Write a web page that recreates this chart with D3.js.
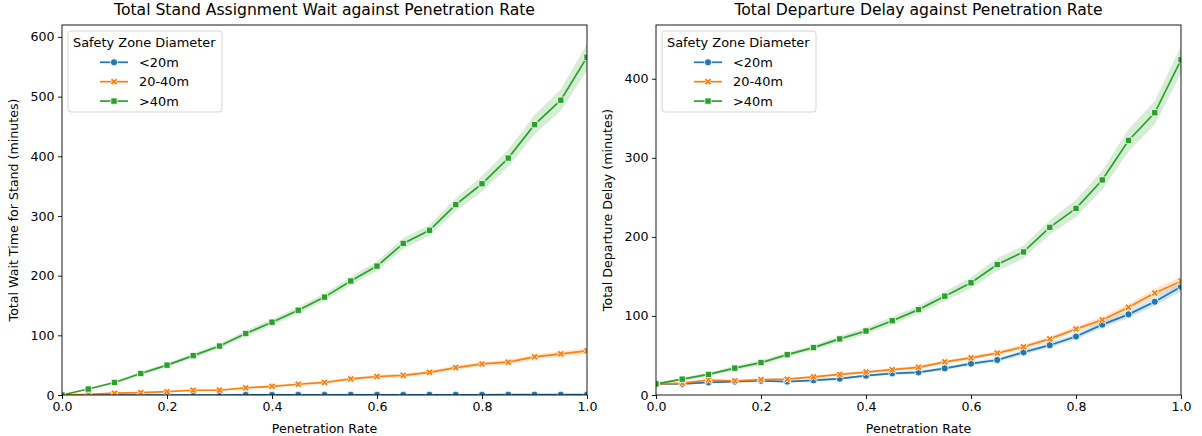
<!DOCTYPE html>
<html>
<head>
<meta charset="utf-8">
<script src="https://cdn.jsdelivr.net/npm/d3@7"></script>
<style>
    body { margin: 0; background: #fff; }
    svg text { font-family: "DejaVu Sans", sans-serif; fill: #000; }
</style>
</head>
<body>
<div class="output"></div>
<script>
// Доли проникновения (ось X)
const rates = [0, 0.05, 0.1, 0.15, 0.2, 0.25, 0.3, 0.35, 0.4, 0.45, 0.5,
               0.55, 0.6, 0.65, 0.7, 0.75, 0.8, 0.85, 0.9, 0.95, 1.0];
const zoneNames = ["<20m", "20-40m", ">40m"];

// Ожидание стоянки
const waitSmall = [0, 0, 0, 0, 0, 0, 0, 0.2, 0.2, 0.2, 0.2, 0.3, 0.3, 0.3, 0.4, 0.4, 0.4, 0.5, 0.5, 0.5, 0.6];
const waitMid   = [0, 1, 3, 4, 5.5, 8, 8, 12, 14.5, 18, 21, 27, 31, 33, 38, 46, 52, 55, 64, 69, 74];
const waitLarge = [0, 10, 21, 36, 50, 66, 82, 103, 122, 142, 164, 191, 216, 254, 276, 319, 354, 397, 453, 494, 566];
const waitSmallCi = [0, 0, 0, 0, 0, 0, 0, 0.2, 0.2, 0.2, 0.2, 0.3, 0.3, 0.3, 0.3, 0.3, 0.3, 0.4, 0.4, 0.4, 0.4];
const waitMidCi   = [0, 0.5, 1, 1, 1, 1.5, 1.5, 2, 2, 2, 2.5, 2.5, 3, 3, 3, 3.5, 3.5, 4, 4, 4.5, 5];
const waitLargeCi = [0, 1, 2, 3, 3, 4, 4, 5, 5, 6, 6, 7, 8, 9, 9, 11, 13, 14, 16, 18, 22];

// Задержка вылета
const delaySmall = [14, 14, 16, 17, 18, 17, 18.6, 20.6, 24.4, 27.4, 28.7, 33.7, 39.7, 44.3, 54, 63, 74, 89, 102, 118, 137];
const delayMid   = [14, 15, 19, 18, 19.4, 20, 23, 26, 29, 32, 35, 42, 47, 53, 61, 71, 83.5, 95, 111, 129, 144];
const delayLarge = [14, 20, 26, 34, 41, 51, 60, 71, 81, 94, 108, 125, 142, 165, 181, 212, 236, 272, 322, 357, 424];
const delaySmallCi = [0, 1, 1, 1, 1, 1, 1.5, 1.5, 1.5, 2, 2, 2, 2.5, 2.5, 3, 3, 3.5, 4, 4.5, 5, 6];
const delayMidCi   = [0, 1, 1, 1, 1, 1, 1.5, 1.5, 1.5, 2, 2, 2, 2.5, 2.5, 3, 3, 3.5, 4, 4.5, 5, 6];
const delayLargeCi = [0, 2, 2, 3, 3, 3, 3, 4, 4, 5, 5, 6, 7, 8, 8, 9, 11, 12, 14, 15, 17];

const colors = ["#1f77b4", "#ff7f0e", "#2ca02c"];
const fontSize = "12.6px";

const svg = d3.select(".output").append("svg")
    .attr("width", 1202)
    .attr("height", 436);

function markerPath(i, size) {
    if (i === 0) return d3.symbol(d3.symbolCircle, size)();
    if (i === 1) return d3.symbol(d3.symbolCross, size * 0.8)();
    return d3.symbol(d3.symbolSquare, size)();
}
function markerRotate(i) {
    return i === 1 ? " rotate(45)" : "";
}

function drawPanel(opts) {
    let { left, top, width, height, yMax, yTicks, title, yLabel, series } = opts;
    let g = svg.append("g").attr("transform", "translate(" + left + "," + top + ")");

    let x = d3.scaleLinear().domain([0, 1]).range([0, width]);
    let y = d3.scaleLinear().domain([0, yMax]).range([height, 0]);

    let clipId = "clip" + left;
    g.append("clipPath").attr("id", clipId)
        .append("rect").attr("width", width).attr("height", height);
    let plot = g.append("g").attr("clip-path", "url(#" + clipId + ")");

    // Доверительные интервалы
    let area = d3.area()
        .x((d) => x(d.rate))
        .y0((d) => y(d.value - d.ci))
        .y1((d) => y(d.value + d.ci));
    let line = d3.line()
        .x((d) => x(d.rate))
        .y((d) => y(d.value));

    let prepared = series.map((s, i) => ({
        i: i,
        values: rates.map((r, k) => ({ rate: r, value: s.values[k], ci: s.ci[k] }))
    }));

    prepared.forEach((s) => {
        plot.append("path")
            .attr("d", area(s.values))
            .attr("fill", colors[s.i])
            .attr("fill-opacity", 0.2)
            .attr("stroke", "none");
    });
    prepared.forEach((s) => {
        plot.append("path")
            .attr("d", line(s.values))
            .attr("fill", "none")
            .attr("stroke", colors[s.i])
            .attr("stroke-width", 1.7);
    });
    prepared.forEach((s) => {
        plot.selectAll(null)
            .data(s.values)
            .enter()
            .append("path")
            .attr("d", markerPath(s.i, 40))
            .attr("transform", (d) => "translate(" + x(d.rate) + "," + y(d.value) + ")" + markerRotate(s.i))
            .attr("fill", colors[s.i])
            .attr("stroke", "#fff")
            .attr("stroke-width", 0.8);
    });

    // Оси
    let xAxis = g.append("g")
        .attr("transform", "translate(0," + height + ")")
        .call(d3.axisBottom(x).tickValues([0, 0.2, 0.4, 0.6, 0.8, 1.0]).tickFormat(d3.format(".1f")).tickSizeOuter(0).tickSize(4).tickPadding(3.5));
    let yAxis = g.append("g")
        .call(d3.axisLeft(y).tickValues(yTicks).tickSizeOuter(0).tickSize(4).tickPadding(3.5));
    [xAxis, yAxis].forEach((a) => {
        a.select(".domain").remove();
        a.selectAll("line").attr("stroke", "#000").attr("stroke-width", 0.9);
        a.selectAll("text").style("font-size", fontSize).attr("fill", "#000");
    });

    g.append("rect")
        .attr("width", width)
        .attr("height", height)
        .attr("fill", "none")
        .attr("stroke", "#000")
        .attr("stroke-width", 0.9);

    g.append("text")
        .text(title)
        .attr("x", width / 2)
        .attr("y", -10)
        .attr("text-anchor", "middle")
        .style("font-size", "15.6px");

    g.append("text")
        .text("Penetration Rate")
        .attr("x", width / 2)
        .attr("y", height + 38)
        .attr("text-anchor", "middle")
        .style("font-size", fontSize);

    g.append("text")
        .text(yLabel)
        .attr("transform", "translate(" + opts.yLabelX + "," + (height / 2) + ") rotate(-90)")
        .attr("text-anchor", "middle")
        .style("font-size", fontSize);

    // Легенда
    let legend = g.append("g").attr("transform", "translate(6,6)");
    legend.append("rect")
        .attr("width", 154)
        .attr("height", 81)
        .attr("rx", 3)
        .attr("fill", "#fff")
        .attr("fill-opacity", 0.8)
        .attr("stroke", "#d0d0d0")
        .attr("stroke-width", 0.9);
    legend.append("text")
        .text("Safety Zone Diameter")
        .attr("x", 5)
        .attr("y", 15.5)
        .style("font-size", "12.9px");
    zoneNames.forEach((name, i) => {
        let row = legend.append("g").attr("transform", "translate(0," + (31.3 + i * 19.4) + ")");
        row.append("line")
            .attr("x1", 32).attr("x2", 60)
            .attr("stroke", colors[i])
            .attr("stroke-width", 1.7);
        row.append("path")
            .attr("d", markerPath(i, 40))
            .attr("transform", "translate(46,0)" + markerRotate(i))
            .attr("fill", colors[i])
            .attr("stroke", "#fff")
            .attr("stroke-width", 0.8);
        row.append("text")
            .text(name)
            .attr("x", 71)
            .attr("y", 4.5)
            .style("font-size", "12.9px");
    });
}

drawPanel({
    left: 62, top: 25, width: 525, height: 370,
    yMax: 620, yTicks: [0, 100, 200, 300, 400, 500, 600],
    title: "Total Stand Assignment Wait against Penetration Rate",
    yLabel: "Total Wait Time for Stand (minutes)",
    yLabelX: -44,
    series: [
        { values: waitSmall, ci: waitSmallCi },
        { values: waitMid, ci: waitMidCi },
        { values: waitLarge, ci: waitLargeCi }
    ]
});

drawPanel({
    left: 656, top: 25, width: 525, height: 370,
    yMax: 468, yTicks: [0, 100, 200, 300, 400],
    title: "Total Departure Delay against Penetration Rate",
    yLabel: "Total Departure Delay (minutes)",
    yLabelX: -44,
    series: [
        { values: delaySmall, ci: delaySmallCi },
        { values: delayMid, ci: delayMidCi },
        { values: delayLarge, ci: delayLargeCi }
    ]
});
</script>
</body>
</html>
